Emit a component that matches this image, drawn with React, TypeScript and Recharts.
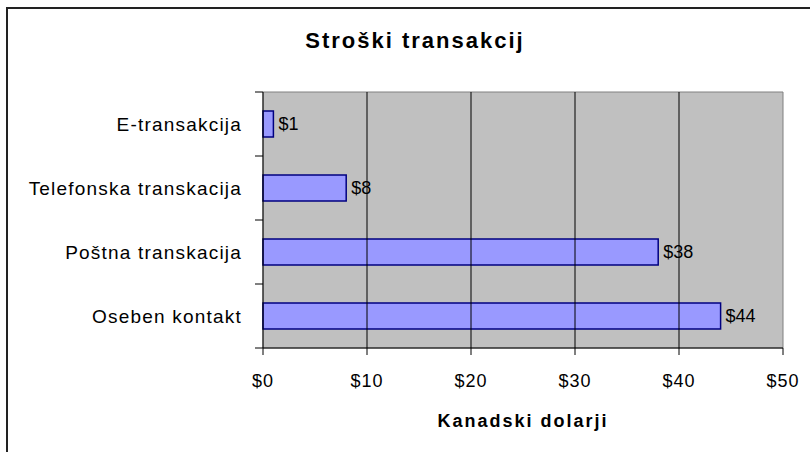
import {
  BarChart,
  Bar,
  XAxis,
  YAxis,
  ReferenceArea,
  ReferenceLine,
  LabelList,
} from "recharts";

const kategorije = [
  "E-transakcija",
  "Telefonska transkacija",
  "Poštna transkacija",
  "Oseben kontakt",
];
const stroski = [1, 8, 38, 44];
const xTicks = [0, 10, 20, 30, 40, 50];

const data = kategorije.map((k, i) => ({ kategorija: k, strosek: stroski[i] }));

const font = "Arial, 'Liberation Sans', sans-serif";
const dolzinaCrtice = 8;
const razmik = 13;

// Excel postavi črtice na os med kategorijami, ne na sredino
function KategorijaTick(props: any) {
  const { x, y, payload, height, visibleTicksCount, index } = props;
  const pas = (height || 256) / (visibleTicksCount || kategorije.length);
  const osX = x + dolzinaCrtice + razmik;
  return (
    <g>
      <line
        x1={osX - dolzinaCrtice}
        x2={osX}
        y1={y - pas / 2}
        y2={y - pas / 2}
        stroke="#000"
      />
      {index === visibleTicksCount - 1 && (
        <line
          x1={osX - dolzinaCrtice}
          x2={osX}
          y1={y + pas / 2}
          y2={y + pas / 2}
          stroke="#000"
        />
      )}
      <text
        x={x}
        y={y}
        textAnchor="end"
        dominantBaseline="central"
        fill="#000"
        fontSize={19}
        fontFamily={font}
        letterSpacing={1.2}
      >
        {payload.value}
      </text>
    </g>
  );
}

export default function App() {
  return (
    <div
      style={{
        position: "absolute",
        left: 0,
        top: 0,
        width: 810,
        height: 452,
        overflow: "hidden",
        background: "#fff",
        fontFamily: font,
      }}
    >
      <div
        style={{
          position: "absolute",
          left: 6,
          top: 7,
          width: 802,
          height: 460,
          borderLeft: "2px solid #222",
          borderTop: "2px solid #222",
          borderRight: "1px solid #ddd",
        }}
      />
      <div
        style={{
          position: "absolute",
          left: 0,
          width: 830,
          top: 28,
          textAlign: "center",
          fontSize: 22,
          fontWeight: "bold",
          letterSpacing: 2,
          color: "#000",
        }}
      >
        Stroški transakcij
      </div>
      <div style={{ position: "absolute", left: 0, top: 0 }}>
        <BarChart
          width={810}
          height={452}
          data={data}
          layout="vertical"
          margin={{ top: 92, right: 27, bottom: 44, left: 13 }}
        >
          <YAxis
            type="category"
            dataKey="kategorija"
            width={250}
            axisLine={{ stroke: "#000" }}
            tickLine={false}
            tickSize={dolzinaCrtice}
            tickMargin={razmik}
            tick={<KategorijaTick />}
          />
          <XAxis
            type="number"
            domain={[0, 50]}
            ticks={xTicks}
            height={60}
            tickSize={7}
            tickMargin={19}
            tickFormatter={(v) => `$${v}`}
            axisLine={{ stroke: "#000" }}
            tickLine={{ stroke: "#000" }}
            tick={{ fill: "#000", fontSize: 18, fontFamily: font, letterSpacing: 1 }}
            label={{
              value: "Kanadski dolarji",
              position: "bottom",
              offset: 6,
              fill: "#000",
              fontSize: 18,
              fontWeight: "bold",
              fontFamily: font,
              letterSpacing: 2,
            }}
          />
          <ReferenceArea
            x1={0}
            x2={50}
            fill="#c0c0c0"
            fillOpacity={1}
            stroke="#808080"
            strokeWidth={1}
            ifOverflow="visible"
          />
          {xTicks.slice(1, -1).map((t) => (
            <ReferenceLine key={t} x={t} stroke="#000" strokeWidth={1} />
          ))}
          <Bar
            dataKey="strosek"
            fill="#9999ff"
            stroke="#000080"
            strokeWidth={1.5}
            barSize={26}
            isAnimationActive={false}
          >
            <LabelList
              dataKey="strosek"
              position="right"
              offset={5}
              formatter={(v: any) => `$${v}`}
              fill="#000"
              fontSize={18}
              fontFamily={font}
            />
          </Bar>
        </BarChart>
      </div>
    </div>
  );
}
